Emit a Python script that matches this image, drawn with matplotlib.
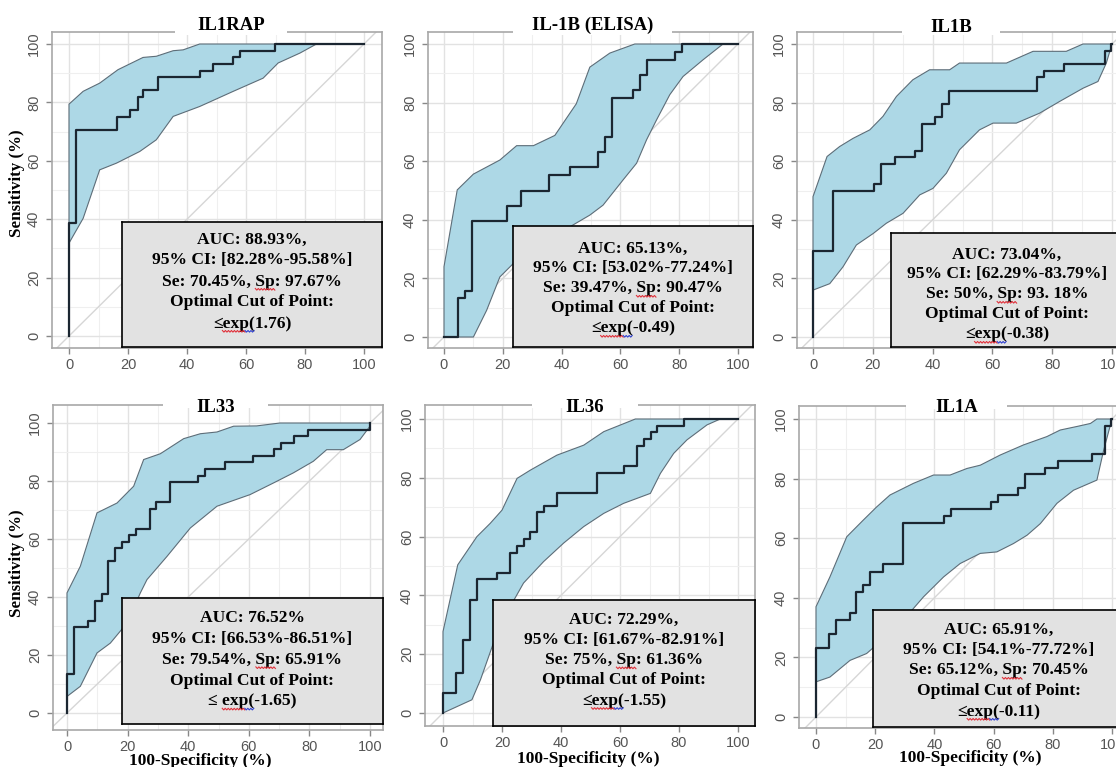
import numpy as np
import matplotlib.pyplot as plt
from matplotlib.patches import Rectangle
from matplotlib.ticker import MultipleLocator

# values: x = 100-specificity (%), y = sensitivity (%)
titles = ["IL1RAP", "IL-1B (ELISA)", "IL1B", "IL33", "IL36", "IL1A"]

il1rap_roc_x = [0, 0, 2.3, 16.3, 20.6, 23.3, 25.0, 30.2, 44.3, 48.9, 55.7, 57.9, 69.8, 100]
il1rap_roc_y = [0, 38.6, 70.5, 75.0, 77.3, 81.8, 84.1, 88.6, 90.9, 93.2, 95.5, 97.7, 100, 100]
il1rap_up_x = [0, 4.8, 10.4, 16.6, 25.1, 29.6, 35.3, 38.7, 44.3, 100]
il1rap_up_y = [79.4, 83.8, 86.6, 91.2, 95.4, 95.8, 97.7, 98.0, 100, 100]
il1rap_lo_x = [0, 4.8, 10.4, 16.1, 24.0, 29.6, 35.3, 44.3, 55.7, 65.8, 70.9, 78.3, 83.9, 100]
il1rap_lo_y = [31.8, 40.3, 56.9, 59.2, 63.2, 67.2, 75.2, 78.6, 83.8, 88.3, 93.5, 96.9, 100, 100]

il1b_elisa_roc_x = [0, 4.8, 7.1, 9.5, 21.4, 26.2, 35.7, 42.9, 52.4, 54.8, 57.1, 64.3, 66.7, 69.0, 78.6, 81.0, 100]
il1b_elisa_roc_y = [0, 13.2, 15.8, 39.5, 44.7, 50.0, 55.3, 57.9, 63.2, 68.4, 81.6, 84.2, 89.5, 94.7, 97.4, 100, 100]
il1b_elisa_up_x = [0, 4.5, 10, 19, 24.7, 30.4, 37.7, 45, 49.6, 56.4, 64.9, 100]
il1b_elisa_up_y = [24, 50.2, 55.6, 60.4, 65.3, 65.3, 68.8, 79.6, 92.1, 96.9, 100, 100]
il1b_elisa_lo_x = [0, 10, 14.5, 19, 23.6, 29.2, 36, 42.8, 49.6, 54.1, 60.9, 65.5, 68.9, 72.3, 76.8, 81.3, 88.1, 94.9, 100]
il1b_elisa_lo_y = [0, 0, 9.1, 20.5, 25.1, 29.6, 34.2, 37.6, 41.6, 45, 53.6, 59.3, 67.3, 74.1, 82.7, 88.9, 94.6, 100, 100]

il1b_roc_x = [0, 0, 6.8, 20.5, 22.7, 27.3, 34.1, 36.4, 40.9, 43.2, 45.5, 75.0, 77.3, 84.1, 97.7, 99.5, 100]
il1b_roc_y = [0, 29.5, 50.0, 52.3, 59.1, 61.4, 63.6, 72.7, 75.0, 79.5, 84.1, 88.6, 90.9, 93.2, 97.7, 100, 100]
il1b_up_x = [0, 4.7, 8.9, 13.4, 19, 23.4, 27.9, 33.4, 39, 45.7, 49, 64.7, 73.6, 84.7, 90.3, 100]
il1b_up_y = [47.9, 61.6, 65, 67.8, 70.7, 75.3, 82.1, 87.8, 91.2, 91.2, 93.5, 93.5, 97.5, 97.5, 100, 100]
il1b_lo_x = [0, 5.6, 10, 14.5, 20.1, 24.5, 30.1, 35.7, 40.1, 44.6, 49, 55.7, 60.2, 68, 75.8, 82.5, 90.3, 95.3, 98.1, 100]
il1b_lo_y = [16, 18.2, 23.9, 31.4, 35.3, 38.8, 42.2, 48.5, 50.7, 55.9, 63.9, 70.7, 73, 73, 76.4, 80.4, 84.9, 87.2, 93.5, 100]

il33_roc_x = [0, 0, 2.3, 6.8, 9.1, 11.4, 13.6, 15.9, 18.2, 20.5, 22.7, 27.3, 29.5, 34.1, 43.2, 45.5, 52.3, 61.4, 68.2, 70.5, 75.0, 79.5, 100, 100]
il33_roc_y = [0, 13.6, 29.5, 31.8, 38.6, 40.9, 52.3, 56.8, 59.1, 61.4, 63.6, 70.5, 72.7, 79.5, 81.8, 84.1, 86.4, 88.6, 90.9, 93.2, 95.5, 97.7, 100, 100]
il33_up_x = [0, 4.4, 9.9, 16.5, 22, 25.3, 30.8, 38.5, 44, 49.5, 55, 62.6, 70.3, 100]
il33_up_y = [41.4, 50.6, 69, 72.4, 78.2, 87.4, 89.4, 94.6, 96.3, 96.9, 98.9, 99, 100, 100]
il33_lo_x = [0, 4.4, 9.9, 14.3, 19.8, 24.2, 26.4, 33, 40.7, 49.5, 60.4, 68.1, 74.7, 81.3, 85.7, 91.2, 96.7, 100]
il33_lo_y = [5.7, 9.2, 20.7, 24.1, 31, 41.4, 46, 54, 63.8, 71.3, 75.3, 79.3, 82.8, 86.8, 90.8, 90.8, 94.3, 98.9]

il36_roc_x = [0, 0, 4.5, 6.8, 9.1, 11.4, 18.2, 22.7, 25.0, 27.3, 29.5, 31.8, 34.1, 38.6, 52.3, 61.4, 65.9, 68.2, 70.5, 72.7, 81.8, 100]
il36_roc_y = [0, 6.8, 13.6, 25.0, 38.6, 45.5, 47.7, 54.5, 56.8, 59.1, 61.4, 68.2, 70.5, 75.0, 81.8, 84.1, 90.9, 93.2, 95.5, 97.7, 100, 100]
il36_up_x = [0, 5, 11.5, 16, 20, 25.1, 29.6, 38.6, 47.7, 54.5, 65.2, 100]
il36_up_y = [27.7, 50.4, 60, 64.5, 69, 79.8, 82.6, 87.7, 91.1, 95.7, 100, 100]
il36_lo_x = [0, 9.8, 12.7, 18.3, 22.8, 27.3, 34.1, 40.9, 47.7, 54.5, 61.2, 70.3, 73.7, 78.2, 82.7, 89.5, 94, 100]
il36_lo_y = [0, 4.5, 11.3, 27.2, 36.2, 44.2, 51.5, 57.8, 63.4, 67.9, 71.3, 74.7, 81.5, 88.3, 92.9, 98, 100, 100]

il1a_roc_x = [0, 0, 4.5, 6.8, 11.4, 13.6, 15.9, 18.2, 22.7, 29.5, 43.2, 45.5, 59.1, 61.4, 68.2, 70.5, 77.3, 81.8, 93.2, 97.7, 99.5, 100]
il1a_roc_y = [0, 23.3, 27.9, 32.6, 34.9, 41.9, 44.2, 48.8, 51.2, 65.1, 67.4, 69.8, 72.1, 74.4, 76.7, 81.4, 83.7, 86.0, 88.4, 97.7, 100, 100]
il1a_up_x = [0, 4.7, 10.4, 16, 20.5, 25, 32.9, 39.7, 45.3, 51, 55.5, 62.2, 70.1, 78, 82.5, 88.2, 92.7, 94.9, 100]
il1a_up_y = [37, 47, 60.5, 66.1, 70.5, 74.5, 78.4, 81.2, 81.2, 83.4, 84.5, 87.9, 91.3, 94.1, 96.3, 97.5, 98.5, 100, 100]
il1a_lo_x = [0, 4.7, 11.5, 17.1, 21.6, 29.5, 36.3, 43.1, 48.7, 55.5, 61.1, 66.7, 71.3, 75.8, 81.4, 87, 94.9, 97.2, 100]
il1a_lo_y = [11.8, 13.4, 19, 21.3, 25.2, 32.5, 40.3, 47, 51.5, 54.9, 55.4, 58.2, 61, 64.9, 71.7, 76.1, 79.5, 89.6, 100]

stats = [
    ["AUC: 88.93%,", "95% CI: [82.28%-95.58%]", "Se: 70.45%, Sp: 97.67%", "Optimal Cut of Point:", "≤exp(1.76)"],
    ["AUC: 65.13%,", "95% CI: [53.02%-77.24%]", "Se: 39.47%, Sp: 90.47%", "Optimal Cut of Point:", "≤exp(-0.49)"],
    ["AUC: 73.04%,", "95% CI: [62.29%-83.79%]", "Se: 50%, Sp: 93. 18%", "Optimal Cut of Point:", "≤exp(-0.38)"],
    ["AUC: 76.52%", "95% CI: [66.53%-86.51%]", "Se: 79.54%, Sp: 65.91%", "Optimal Cut of Point:", "≤ exp(-1.65)"],
    ["AUC: 72.29%,", "95% CI: [61.67%-82.91%]", "Se: 75%, Sp: 61.36%", "Optimal Cut of Point:", "≤exp(-1.55)"],
    ["AUC: 65.91%,", "95% CI: [54.1%-77.72%]", "Se: 65.12%, Sp: 70.45%", "Optimal Cut of Point:", "≤exp(-0.11)"],
]

curves = [
    (il1rap_roc_x, il1rap_roc_y, il1rap_up_x, il1rap_up_y, il1rap_lo_x, il1rap_lo_y),
    (il1b_elisa_roc_x, il1b_elisa_roc_y, il1b_elisa_up_x, il1b_elisa_up_y, il1b_elisa_lo_x, il1b_elisa_lo_y),
    (il1b_roc_x, il1b_roc_y, il1b_up_x, il1b_up_y, il1b_lo_x, il1b_lo_y),
    (il33_roc_x, il33_roc_y, il33_up_x, il33_up_y, il33_lo_x, il33_lo_y),
    (il36_roc_x, il36_roc_y, il36_up_x, il36_up_y, il36_lo_x, il36_lo_y),
    (il1a_roc_x, il1a_roc_y, il1a_up_x, il1a_up_y, il1a_lo_x, il1a_lo_y),
]

# layout in pixels of the 1116x767 picture
W, H = 1116, 767
layout = [
    dict(frame=(52, 382, 32, 348), ticks=(69, 364, 336, 44), gap=(175, 287), title_y=25,
         box=(122, 382, 222, 347), line0=16, dline=21, ylab=183, xlab=None),
    dict(frame=(428, 753, 32, 348), ticks=(444, 738, 337, 44), gap=(513, 672), title_y=25,
         box=(513, 753, 226, 347), line0=21, dline=20, ylab=None, xlab=None),
    dict(frame=(797, 1128, 32, 348), ticks=(813, 1112, 337, 44), gap=(902, 1000), title_y=28,
         box=(891, 1123, 233, 347), line0=20, dline=20, ylab=None, xlab=None),
    dict(frame=(53, 383, 405, 730), ticks=(67, 370, 713, 423), gap=(163, 268), title_y=407,
         box=(122, 383, 598, 724), line0=19, dline=20.7, ylab=563, xlab=(200, 761)),
    dict(frame=(425, 755, 405, 726), ticks=(443, 738, 713, 419), gap=(532, 638), title_y=407,
         box=(493, 755, 600, 726), line0=18, dline=20.3, ylab=None, xlab=(588, 759)),
    dict(frame=(799, 1130, 406, 728), ticks=(816, 1112, 717, 419), gap=(906, 1007), title_y=407,
         box=(873, 1125, 610, 727), line0=18, dline=20.5, ylab=None, xlab=(970, 758)),
]

SERIF = "Liberation Serif"
SANS = "Liberation Sans"
FRAME = "#a8a8a8"
BOX_FS = 12.6

fig = plt.figure(figsize=(W / 100, H / 100), dpi=100)
fig.patch.set_facecolor("white")


def fx(px):
    return px / W


def fy(py):
    return 1 - py / H


renderer = fig.canvas.get_renderer()


def text_width(s):
    t = fig.text(0, 0, s, fontfamily=SERIF, fontweight="bold", fontsize=BOX_FS)
    w = t.get_window_extent(renderer).width
    t.remove()
    return w


def squiggle(ax, x0, x1, y, color):
    # spell-check style wavy underline, in pixels of the picture
    xs = np.arange(x0, x1 + 0.1, 1.5)
    ys = y + np.where(np.arange(len(xs)) % 2 == 0, 0, 1.6)
    ax.plot(fx(xs), fy(ys), color=color, lw=0.8, transform=fig.transFigure, clip_on=False, zorder=6)


for k, lay in enumerate(layout):
    L, R, T, B = lay["frame"]
    x0, x100, y0, y100 = lay["ticks"]
    sx = (x100 - x0) / 100.0
    sy = (y0 - y100) / 100.0
    ax = fig.add_axes([fx(L), fy(B), (R - L) / W, (B - T) / H])
    ax.set_xlim((L - x0) / sx, (R - x0) / sx)
    ax.set_ylim((y0 - B) / sy, (y0 - T) / sy)

    ax.xaxis.set_major_locator(MultipleLocator(20))
    ax.yaxis.set_major_locator(MultipleLocator(20))
    ax.xaxis.set_minor_locator(MultipleLocator(10))
    ax.yaxis.set_minor_locator(MultipleLocator(10))
    ax.grid(which="major", color="#e2e2e2", lw=1.0, zorder=0)
    ax.grid(which="minor", color="#efefef", lw=0.8, zorder=0)
    ax.set_axisbelow(True)
    ax.tick_params(which="minor", length=0)
    ax.tick_params(which="major", direction="out", length=4, width=1, color="#888888",
                   labelcolor="#555555", labelsize=10.5)
    ax.tick_params(axis="x", pad=3)
    ax.tick_params(axis="y", pad=4, labelrotation=90)
    for lab in ax.get_xticklabels() + ax.get_yticklabels():
        lab.set_fontfamily(SANS)
    for lab in ax.get_yticklabels():
        lab.set_va("center")
    for sp in ax.spines.values():
        sp.set_color(FRAME)
        sp.set_linewidth(1.2)

    rx, ry, ux, uy, lx, ly = curves[k]
    ax.axline((0, 0), (100, 100), color="#d6d6d6", lw=1.0, zorder=1)
    poly_x = np.concatenate([ux, lx[::-1]])
    poly_y = np.concatenate([uy, ly[::-1]])
    ax.fill(poly_x, poly_y, facecolor="#add8e6", edgecolor="#5d6d78", lw=0.8, zorder=2)
    ax.step(rx, ry, where="post", color="#1b2631", lw=1.6, zorder=3)

    # title sitting on the top frame line
    g0, g1 = lay["gap"]
    fig.patches.append(Rectangle((fx(g0), fy(T + 3)), (g1 - g0) / W, 6 / H,
                                 transform=fig.transFigure, facecolor="white",
                                 edgecolor="none", zorder=5))
    fig.text(fx((g0 + g1) / 2), fy(lay["title_y"]), titles[k], ha="center", va="center",
             fontfamily=SERIF, fontweight="bold", fontsize=13.5, zorder=6)

    # stats box
    bl, br, bt, bb = lay["box"]
    bax = fig.add_axes([fx(bl), fy(bb), (br - bl) / W, (bb - bt) / H], zorder=4)
    bax.set_xlim(0, 1)
    bax.set_ylim(0, 1)
    bax.set_facecolor("#e2e2e2")
    bax.set_xticks([])
    bax.set_yticks([])
    for sp in bax.spines.values():
        sp.set_color("black")
        sp.set_linewidth(1.2)
    cx = (bl + br) / 2
    for i, line in enumerate(stats[k]):
        base = bt + lay["line0"] + i * lay["dline"] + 5.5
        bax.text(0.5, 1 - (base - bt) / (bb - bt), line, ha="center", va="baseline",
                 fontfamily=SERIF, fontweight="bold", fontsize=BOX_FS, clip_on=True)
        if i == 2:
            full = text_width(line)
            pre = line.split("Sp")[0]
            a = cx - full / 2 + text_width(pre)
            squiggle(bax, a, a + text_width("Sp"), base + 3, "#e0303a")
        if i == 4 and base + 3 < bb:
            full = text_width(line)
            pre = line.split("exp")[0]
            a = cx - full / 2 + text_width(pre)
            b = a + text_width("exp(")
            squiggle(bax, a, a + 0.7 * (b - a), base + 3, "#e0303a")
            squiggle(bax, a + 0.7 * (b - a), b, base + 3, "#3040d0")

    if lay["ylab"] is not None:
        fig.text(fx(17), fy(lay["ylab"]), "Sensitivity (%)", rotation=90, ha="center",
                 va="center", fontfamily=SERIF, fontweight="bold", fontsize=12.2)
    if lay["xlab"] is not None:
        fig.text(fx(lay["xlab"][0]), fy(lay["xlab"][1]), "100-Specificity (%)", ha="center",
                 va="center", fontfamily=SERIF, fontweight="bold", fontsize=12.5)

fig.savefig("out.png", dpi=100)
